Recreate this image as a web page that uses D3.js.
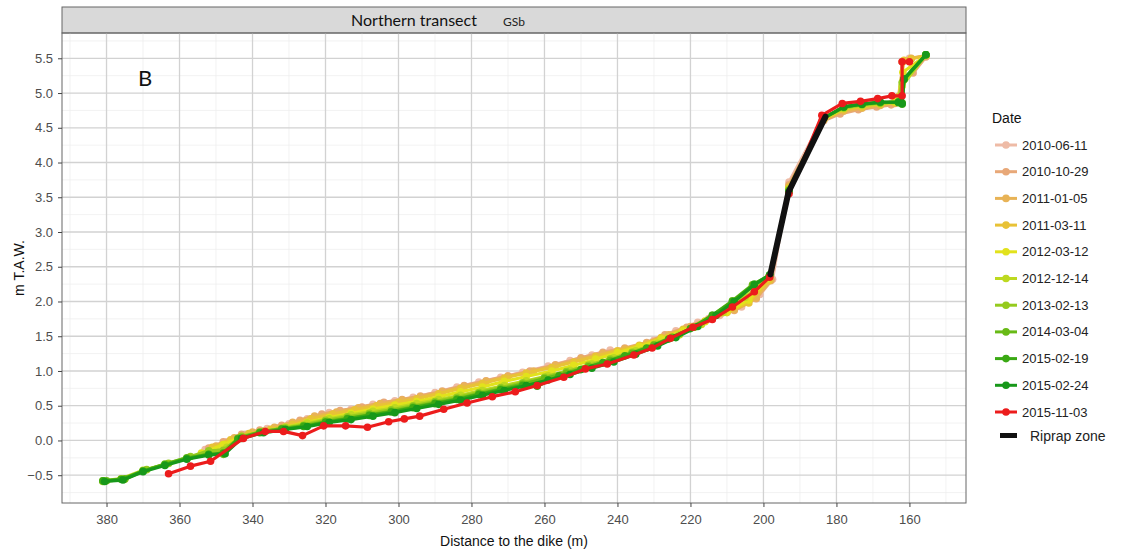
<!DOCTYPE html>
<html>
<head>
<meta charset="utf-8">
<script src="https://cdn.jsdelivr.net/npm/d3@7"></script>
<style>
  body { margin: 0; background: #fff; }
  text { font-family: Arial, "Liberation Sans", sans-serif; }
</style>
</head>
<body>
<svg id="chart" width="1123" height="552"></svg>
<script>
// profile data, one array of [distance (m), height (m T.A.W.)] per survey date
const dates = ["2010-06-11","2010-10-29","2011-01-05","2011-03-11","2012-03-12","2012-12-14",
               "2013-02-13","2014-03-04","2015-02-19","2015-02-24","2015-11-03"]
const colours = ["#eebba6","#e8a878","#e8b356","#e8c236","#e2e21c","#bdd920",
                 "#95cb1e","#68ba16","#3aa914","#17981a","#ec1c1c"]

const p2010_06_11 = [[353,-0.13],[347,-0.02],[342,0.09],[336,0.17],[330,0.24],[325,0.31],[319,0.40],[313,0.45],[307,0.52],[301,0.57],[296,0.62],[290,0.69],[284,0.77],[278,0.84],[272,0.91],[266,0.98],[259,1.07],[253,1.15],[247,1.23],[242,1.30],[238,1.30],[234,1.36],[230,1.44],[224,1.58],[218,1.70],[212,1.80],[206,1.92],[201,2.10],[197.5,2.32],[193,3.72],[184,4.60],[179,4.74],[174,4.80],[169,4.83],[165,4.85],[162.5,4.87],[162,5.45],[160,5.50],[155.5,5.53]]
const p2010_10_29 = [[352,-0.11],[348,-0.02],[343,0.09],[338,0.15],[332,0.22],[327,0.29],[321,0.38],[316,0.43],[310,0.48],[304,0.55],[299,0.59],[294,0.64],[288,0.71],[282,0.79],[276,0.86],[270,0.93],[264,1.00],[257,1.09],[250,1.19],[244,1.27],[238,1.33],[232,1.41],[227,1.52],[221,1.63],[215,1.75],[208,1.87],[202,2.04],[198,2.30],[193,3.68],[183.5,4.60],[179,4.70],[174,4.76],[169,4.80],[165,4.83],[162.5,4.88],[162,5.45],[160,5.47],[159,5.29],[155.5,5.52]]
const p2011_01_05 = [[350,-0.08],[345,0.04],[340,0.12],[334,0.19],[329,0.26],[323,0.35],[317,0.41],[311,0.47],[305,0.53],[299,0.58],[294,0.63],[288,0.70],[282,0.78],[276,0.85],[270,0.92],[263,1.00],[257,1.08],[250,1.17],[244,1.25],[238,1.32],[232,1.40],[226,1.52],[220,1.64],[214,1.76],[208,1.88],[202,2.05],[198,2.31],[193,3.66],[183.5,4.62],[178,4.74],[173,4.78],[168,4.82],[164,4.85],[162.5,4.90],[161.8,5.45],[159.5,5.50],[155.5,5.54]]
const p2011_03_11 = [[351,-0.10],[346,0.01],[341,0.10],[335,0.16],[329,0.23],[324,0.31],[318,0.38],[312,0.44],[306,0.50],[300,0.55],[295,0.60],[289,0.67],[283,0.75],[277,0.82],[271,0.90],[265,0.97],[258,1.05],[252,1.13],[246,1.21],[240,1.29],[234,1.37],[228,1.48],[222,1.60],[216,1.72],[210,1.84],[204,1.98],[198.5,2.30],[193,3.64],[183.5,4.62],[178,4.76],[173,4.80],[168,4.84],[164,4.87],[163,4.95],[161.5,5.47],[159.5,5.49],[155.5,5.54]]
const p2012_03_12 = [[354,-0.18],[348,-0.06],[343,0.06],[337,0.13],[331,0.19],[325,0.26],[319,0.33],[313,0.39],[307,0.45],[301,0.51],[295,0.56],[289,0.63],[283,0.70],[277,0.77],[271,0.85],[265,0.92],[258,1.00],[252,1.08],[246,1.17],[240,1.26],[234,1.35],[228,1.46],[222,1.58],[216,1.71],[210,1.85],[204,2.02],[198.5,2.34],[193,3.62],[183.5,4.63],[178,4.78],[173,4.82],[168,4.85],[164,4.87],[162.5,4.88],[161.8,5.30],[155.5,5.54]]
const p2012_12_14 = [[381,-0.58],[376,-0.55],[370,-0.43],[364,-0.35],[358,-0.26],[352,-0.18],[347,-0.10],[343,0.05],[337,0.13],[331,0.19],[325,0.25],[319,0.31],[313,0.37],[307,0.42],[301,0.47],[295,0.53],[289,0.59],[283,0.65],[277,0.72],[271,0.79],[265,0.86],[259,0.93],[253,1.01],[247,1.10],[241,1.19],[235,1.29],[229,1.40],[223,1.52],[217,1.67],[211,1.84],[205,2.06],[198.5,2.36],[193,3.62],[183.5,4.64],[178,4.78],[173,4.82],[168,4.85],[163,4.87],[162,5.10],[155.5,5.55]]
const p2013_02_13 = [[381,-0.59],[375,-0.56],[369,-0.42],[363,-0.33],[357,-0.23],[352,-0.15],[348,-0.14],[343,0.06],[337,0.13],[331,0.18],[326,0.22],[320,0.29],[314,0.34],[308,0.39],[302,0.44],[296,0.50],[290,0.56],[284,0.62],[278,0.69],[272,0.76],[266,0.83],[260,0.91],[254,0.99],[248,1.08],[242,1.17],[236,1.27],[230,1.38],[225,1.49],[219,1.63],[214,1.78],[208,1.99],[203,2.22],[198.3,2.37],[193,3.60],[183.5,4.64],[178,4.79],[173,4.83],[168,4.86],[163,4.87],[162,5.15],[155.5,5.55]]
const p2014_03_04 = [[380,-0.58],[375,-0.55],[370,-0.44],[364,-0.34],[358,-0.25],[352,-0.20],[348,-0.20],[344,0.03],[338,0.12],[332,0.17],[326,0.21],[320,0.27],[314,0.32],[308,0.37],[302,0.42],[296,0.48],[290,0.54],[284,0.60],[278,0.67],[272,0.74],[266,0.81],[260,0.89],[254,0.97],[248,1.06],[242,1.15],[236,1.25],[230,1.37],[225,1.48],[219,1.63],[214,1.80],[208.5,2.01],[203,2.24],[198.3,2.38],[193,3.60],[183.5,4.64],[178,4.80],[173,4.84],[168,4.86],[163,4.87],[162,4.86],[161.5,5.20],[155.5,5.55]]
const p2015_02_19 = [[381,-0.58],[376,-0.56],[370,-0.44],[364,-0.35],[358,-0.26],[352,-0.20],[348,-0.18],[344,0.02],[338,0.11],[332,0.16],[326,0.20],[320,0.26],[314,0.31],[308,0.36],[302,0.41],[296,0.47],[290,0.53],[284,0.59],[278,0.66],[272,0.73],[266,0.79],[262,0.78],[256,0.93],[250,1.02],[244,1.12],[238,1.22],[232,1.33],[226,1.46],[220,1.61],[214,1.80],[208.5,2.00],[202.5,2.25],[198.3,2.38],[193,3.58],[183.5,4.64],[178,4.80],[173,4.84],[168,4.87],[163,4.86],[162,4.84],[161.5,5.20],[155.5,5.55]]
const p2015_02_24 = [[380.5,-0.59],[375.5,-0.57],[370,-0.45],[364,-0.36],[358,-0.27],[352,-0.21],[347.5,-0.19],[343,0.03],[337,0.11],[331,0.16],[325,0.20],[319,0.26],[313,0.30],[307,0.35],[301,0.40],[295,0.46],[289,0.52],[283,0.58],[277,0.65],[271,0.72],[265,0.79],[259,0.87],[253,0.95],[247,1.04],[241,1.13],[235,1.24],[229,1.36],[224,1.48],[218,1.64],[213,1.80],[208,2.00],[202.5,2.24],[198.3,2.38],[193,3.58],[183.5,4.64],[178,4.80],[173,4.84],[168,4.87],[163,4.87],[162,4.85],[161.5,5.20],[155.5,5.55]]
const p2015_11_03 = [[363,-0.48],[357,-0.37],[351.5,-0.30],[342.5,0.03],[336.5,0.13],[331.5,0.13],[326.3,0.07],[320.5,0.21],[314.5,0.21],[308.5,0.19],[302.7,0.27],[298.4,0.31],[294.2,0.35],[287.6,0.45],[281.2,0.54],[274.3,0.63],[268,0.70],[262,0.79],[254.7,0.91],[248.8,1.03],[242.8,1.10],[235.5,1.23],[230.5,1.33],[225.5,1.47],[219.3,1.63],[214,1.74],[208.5,1.92],[202.5,2.14],[198.3,2.35],[193,3.55],[184,4.68],[178.4,4.85],[173.4,4.88],[168.7,4.92],[164.8,4.96],[162,4.96],[162,5.45],[160,5.45]]
const profiles = [p2010_06_11,p2010_10_29,p2011_01_05,p2011_03_11,p2012_03_12,p2012_12_14,
                  p2013_02_13,p2014_03_04,p2015_02_19,p2015_02_24,p2015_11_03]

const riprap = [[198.1,2.39],[193.1,3.58],[183.0,4.66]]

const xTicks = [380,360,340,320,300,280,260,240,220,200,180,160]
const yTicks = [-0.5,0,0.5,1,1.5,2,2.5,3,3.5,4,4.5,5,5.5]

const panel = {left: 62, right: 966, top: 33, bottom: 503}
const svg = d3.select("#chart")

const x = d3.scaleLinear().domain([392.2, 144.5]).range([panel.left, panel.right])
const y = d3.scaleLinear().domain([-0.9, 5.864]).range([panel.bottom, panel.top])

// strip
svg.append("rect")
    .attr("x", panel.left).attr("y", 7)
    .attr("width", panel.right - panel.left).attr("height", panel.top - 7)
    .attr("fill", "#d9d9d9").attr("stroke", "#666").attr("stroke-width", 1)
svg.append("text").attr("x", 414).attr("y", 26).attr("text-anchor", "middle")
    .style("font-family", "Lato, 'Open Sans', sans-serif").style("font-size", "16px").attr("fill", "#111")
    .text("Northern transect")
svg.append("text").attr("x", 514).attr("y", 26).attr("text-anchor", "middle")
    .style("font-family", "Lato, 'Open Sans', sans-serif").style("font-size", "12px").attr("fill", "#222")
    .text("GSb")

// minor + major grid
const xMinor = xTicks.map(d => d - 10).concat([390])
const yMinor = yTicks.map(d => d - 0.25).concat([5.75])
const grid = svg.append("g")
grid.selectAll(".xmin").data(xMinor.filter(d => d < 392 && d > 145)).enter().append("line")
    .attr("x1", d => x(d)).attr("x2", d => x(d)).attr("y1", panel.top).attr("y2", panel.bottom)
    .attr("stroke", "#ececec").attr("stroke-width", 0.7)
grid.selectAll(".ymin").data(yMinor.filter(d => d > -0.9 && d < 5.86)).enter().append("line")
    .attr("y1", d => y(d)).attr("y2", d => y(d)).attr("x1", panel.left).attr("x2", panel.right)
    .attr("stroke", "#ececec").attr("stroke-width", 0.7)
grid.selectAll(".xmaj").data(xTicks).enter().append("line")
    .attr("x1", d => x(d)).attr("x2", d => x(d)).attr("y1", panel.top).attr("y2", panel.bottom)
    .attr("stroke", "#d2d2d2").attr("stroke-width", 1.3)
grid.selectAll(".ymaj").data(yTicks).enter().append("line")
    .attr("y1", d => y(d)).attr("y2", d => y(d)).attr("x1", panel.left).attr("x2", panel.right)
    .attr("stroke", "#d2d2d2").attr("stroke-width", 1.3)

// profiles
const line = d3.line().x(d => x(d[0])).y(d => y(d[1]))
profiles.forEach(function(p, i) {
  svg.append("path").datum(p)
      .attr("d", line).attr("fill", "none")
      .attr("stroke", colours[i]).attr("stroke-width", 3.2)
      .attr("stroke-linejoin", "round")
  svg.selectAll(".pt" + i).data(p).enter().append("circle")
      .attr("cx", d => x(d[0])).attr("cy", d => y(d[1])).attr("r", 3.8)
      .attr("fill", colours[i])
})

svg.append("path").datum(riprap)
    .attr("d", line).attr("fill", "none")
    .attr("stroke", "#111").attr("stroke-width", 6)
    .attr("stroke-linecap", "round").attr("stroke-linejoin", "round")

// panel border
svg.append("rect")
    .attr("x", panel.left).attr("y", panel.top)
    .attr("width", panel.right - panel.left).attr("height", panel.bottom - panel.top)
    .attr("fill", "none").attr("stroke", "#666").attr("stroke-width", 1)

// axes
const xAxis = svg.append("g").attr("transform", "translate(0," + panel.bottom + ")")
    .call(d3.axisBottom(x).tickValues(xTicks).tickSize(4).tickPadding(8))
const yAxis = svg.append("g").attr("transform", "translate(" + panel.left + ",0)")
    .call(d3.axisLeft(y).tickValues(yTicks).tickSize(4).tickPadding(5).tickFormat(d3.format(".1f")))
;[xAxis, yAxis].forEach(function(a) {
  a.select(".domain").remove()
  a.selectAll(".tick line").attr("stroke", "#444")
  a.selectAll(".tick text").attr("fill", "#4d4d4d").style("font-size", "13px")
})

svg.append("text").attr("x", 514).attr("y", 546).attr("text-anchor", "middle")
    .style("font-size", "14px").attr("fill", "#111").text("Distance to the dike (m)")
svg.append("text").attr("transform", "translate(24,268) rotate(-90)").attr("text-anchor", "middle")
    .style("font-size", "14px").attr("fill", "#111").text("m T.A.W.")

svg.append("text").attr("x", 145).attr("y", 86).attr("text-anchor", "middle")
    .style("font-family", "Lato, 'Open Sans', sans-serif").style("font-size", "22px").attr("fill", "#111")
    .text("B")

// legend
const legend = svg.append("g")
legend.append("text").attr("x", 992).attr("y", 123).style("font-size", "14px").attr("fill", "#111").text("Date")
const item = legend.selectAll(".item").data(dates).enter().append("g")
    .attr("transform", (d, i) => "translate(0," + (145 + i * 26.7) + ")")
item.append("line").attr("x1", 995).attr("x2", 1017).attr("y1", 0).attr("y2", 0)
    .attr("stroke", (d, i) => colours[i]).attr("stroke-width", 3)
item.append("circle").attr("cx", 1006).attr("cy", 0).attr("r", 3.8).attr("fill", (d, i) => colours[i])
item.append("text").attr("x", 1022).attr("y", 0).attr("dy", "0.35em")
    .style("font-size", "13px").attr("fill", "#222").text(d => d)
legend.append("rect").attr("x", 1000).attr("y", 433).attr("width", 17).attr("height", 5).attr("fill", "#111")
legend.append("text").attr("x", 1030).attr("y", 436).attr("dy", "0.35em")
    .style("font-size", "14px").attr("fill", "#222").text("Riprap zone")
</script>
</body>
</html>
